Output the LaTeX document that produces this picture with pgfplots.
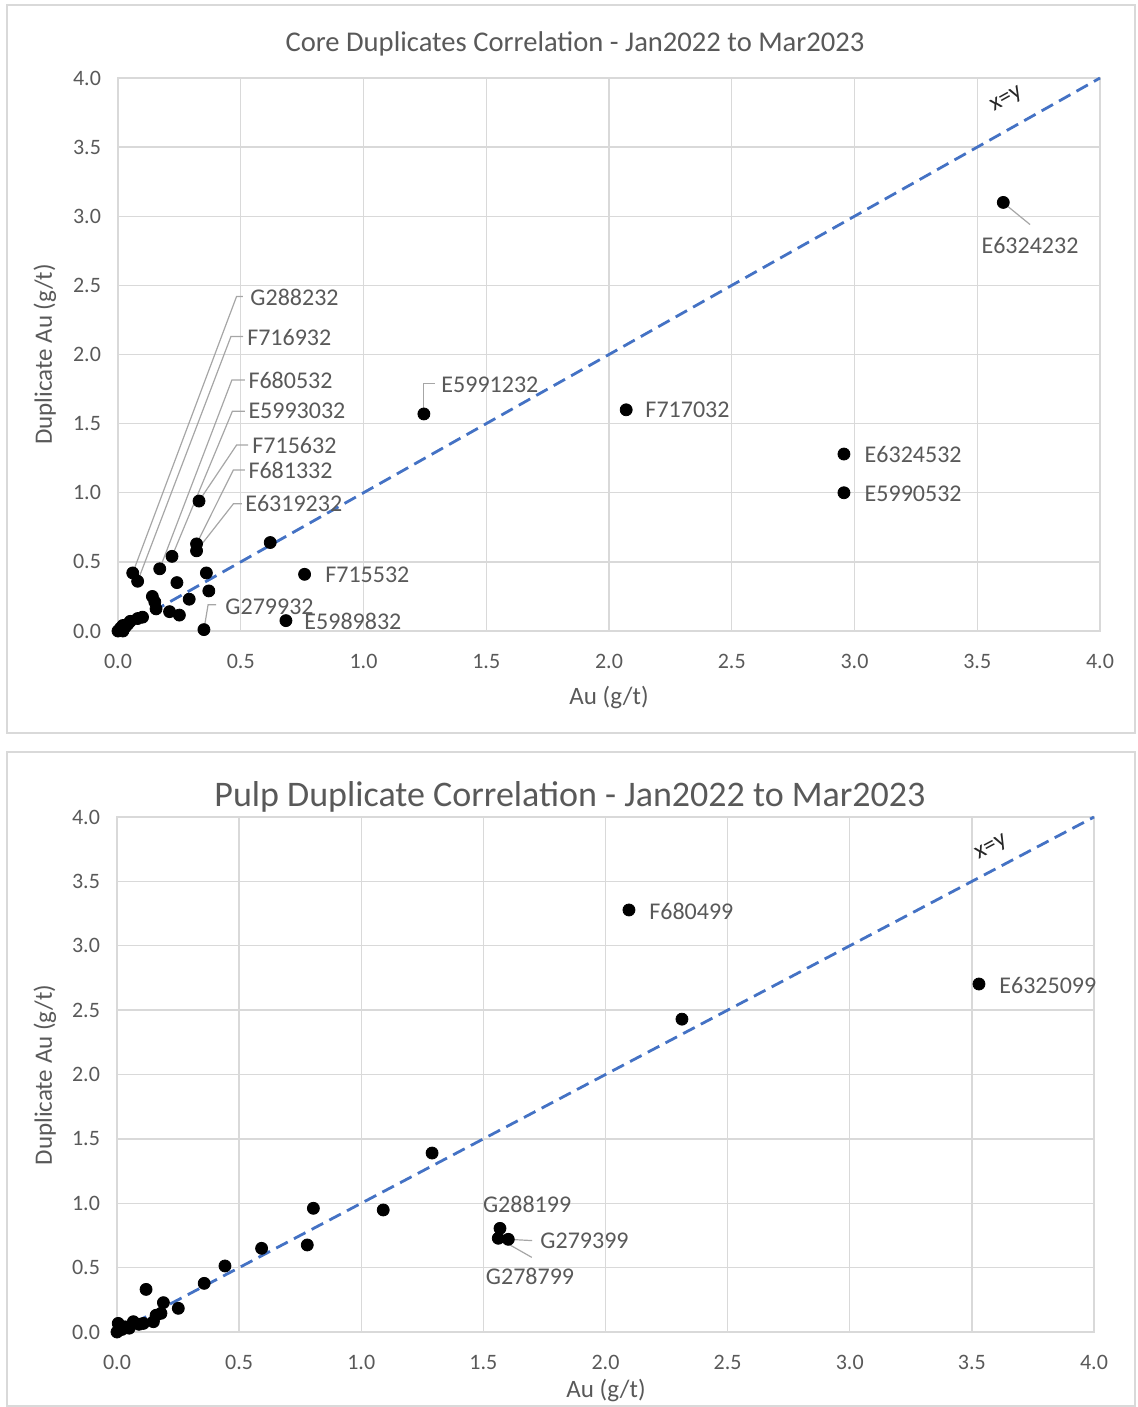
\documentclass[border=0pt]{standalone}
\usepackage{pgfplots}
\pgfplotsset{compat=1.18}
\usepackage{fontspec}
\setmainfont{Carlito}
\definecolor{txt}{HTML}{595959}
\definecolor{gridc}{HTML}{D9D9D9}
\definecolor{lead}{HTML}{A6A6A6}
\definecolor{xyblue}{HTML}{4472C4}
\tikzset{lab/.style={font=\fontsize{12}{14}\selectfont, text=txt, inner sep=0pt}}
\pgfplotsset{
  dupl/.style={
    scale only axis, xmin=0, xmax=4, ymin=0, ymax=4,
    xtick={0,0.5,1,1.5,2,2.5,3,3.5,4},
    ytick={0,0.5,1,1.5,2,2.5,3,3.5,4},
    grid=major, major grid style={draw=gridc, line width=0.7pt},
    axis line style={draw=gridc, line width=0.7pt},
    major tick length=0pt,
    /pgf/number format/.cd, fixed, fixed zerofill, precision=1, assume math mode=true,
    /pgfplots/.cd,
    tick label style={font=\fontsize{11}{13}\selectfont, text=txt},
    xticklabel style={yshift=-8pt},
    yticklabel style={xshift=-5pt},
    clip=false,
  },
}
\begin{document}
\begin{tikzpicture}
\path[use as bounding box] (0,0) rectangle (568.5pt,-703.5pt);
\draw[gridc, line width=0.8pt] (3.5pt,-2.5pt) rectangle (567.5pt,-366.5pt);
\draw[gridc, line width=0.8pt] (3.5pt,-376pt) rectangle (567.5pt,-703pt);
% ---------------- top chart ----------------
\node[font=\fontsize{14.3}{16}\selectfont, text=txt] at (287.5pt,-22pt) {Core Duplicates Correlation - Jan2022 to Mar2023};
\node[font=\fontsize{12.5}{14}\selectfont, text=txt, rotate=90] at (22.5pt,-177.25pt) {Duplicate Au (g/t)};
\node[font=\fontsize{12.5}{14}\selectfont, text=txt] at (304.5pt,-348.5pt) {Au (g/t)};
\begin{axis}[dupl, at={(59pt,-315.5pt)}, anchor=south west, width=491pt, height=276.5pt]
\addplot[xyblue, line width=1.4pt, dash pattern=on 6.5pt off 3.5pt] coordinates {(0,0) (4,4)};
\addplot[only marks, mark=*, mark size=3pt, black] table {
x y
0.00 0.00
0.01 0.02
0.02 0.00
0.02 0.04
0.03 0.03
0.04 0.05
0.05 0.07
0.08 0.09
0.10 0.10
0.06 0.42
0.08 0.36
0.17 0.45
0.22 0.54
0.24 0.35
0.14 0.25
0.15 0.21
0.155 0.16
0.21 0.14
0.25 0.115
0.29 0.23
0.36 0.42
0.37 0.29
0.35 0.01
0.32 0.63
0.32 0.58
0.33 0.94
0.62 0.64
0.76 0.41
0.684 0.075
1.246 1.57
2.07 1.60
2.957 1.28
2.957 1.00
3.606 3.10
};
\draw[lead, line width=0.6pt] (axis cs:0.06,0.42) -- (axis cs:0.483,2.42) -- (axis cs:0.509,2.42);
\draw[lead, line width=0.6pt] (axis cs:0.08,0.36) -- (axis cs:0.46,2.13) -- (axis cs:0.51,2.13);
\draw[lead, line width=0.6pt] (axis cs:0.17,0.45) -- (axis cs:0.464,1.816) -- (axis cs:0.517,1.816);
\draw[lead, line width=0.6pt] (axis cs:0.22,0.54) -- (axis cs:0.466,1.59) -- (axis cs:0.517,1.59);
\draw[lead, line width=0.6pt] (axis cs:0.33,0.94) -- (axis cs:0.483,1.345) -- (axis cs:0.53,1.345);
\draw[lead, line width=0.6pt] (axis cs:0.32,0.63) -- (axis cs:0.47,1.165) -- (axis cs:0.517,1.165);
\draw[lead, line width=0.6pt] (axis cs:0.32,0.58) -- (axis cs:0.47,0.92) -- (axis cs:0.505,0.92);
\draw[lead, line width=0.6pt] (axis cs:0.35,0.01) -- (axis cs:0.367,0.19) -- (axis cs:0.40,0.19);
\draw[lead, line width=0.6pt] (axis cs:1.246,1.57) -- (axis cs:1.246,1.79) -- (axis cs:1.29,1.79);
\draw[lead, line width=0.6pt] (axis cs:3.606,3.098) -- (axis cs:3.715,2.94);
\node[lab, anchor=west] at (axis cs:0.538,2.41) {G288232};
\node[lab, anchor=west] at (axis cs:0.525,2.12) {F716932};
\node[lab, anchor=west] at (axis cs:0.53,1.81) {F680532};
\node[lab, anchor=west] at (axis cs:0.53,1.59) {E5993032};
\node[lab, anchor=west] at (axis cs:0.546,1.345) {F715632};
\node[lab, anchor=west] at (axis cs:0.53,1.165) {F681332};
\node[lab, anchor=west] at (axis cs:0.517,0.92) {E6319232};
\node[lab, anchor=west] at (axis cs:0.436,0.176) {G279932};
\node[lab, anchor=west] at (axis cs:0.758,0.067) {E5989832};
\node[lab, anchor=west] at (axis cs:1.316,1.78) {E5991232};
\node[lab, anchor=west] at (axis cs:2.147,1.60) {F717032};
\node[lab, anchor=west] at (axis cs:3.04,1.28) {E6324532};
\node[lab, anchor=west] at (axis cs:3.04,0.99) {E5990532};
\node[lab, anchor=west] at (axis cs:0.843,0.41) {F715532};
\node[lab] at (axis cs:3.715,2.79) {E6324232};
\node[font=\fontsize{12}{14}\selectfont, text=black!85, rotate=29, inner sep=0pt] at (axis cs:3.62,3.84) {x=y};
\end{axis}
% ---------------- bottom chart ----------------
\node[font=\fontsize{18}{20}\selectfont, text=txt] at (285pt,-398.5pt) {Pulp Duplicate Correlation - Jan2022 to Mar2023};
\node[font=\fontsize{12.5}{14}\selectfont, text=txt, rotate=90] at (22.5pt,-537.5pt) {Duplicate Au (g/t)};
\node[font=\fontsize{12.5}{14}\selectfont, text=txt] at (303pt,-695pt) {Au (g/t)};
\begin{axis}[dupl, at={(58.5pt,-666pt)}, anchor=south west, width=488.5pt, height=257.5pt]
\addplot[xyblue, line width=1.4pt, dash pattern=on 6.5pt off 3.5pt] coordinates {(0,0) (4,4)};
\addplot[only marks, mark=*, mark size=3pt, black] table {
x y
0.00 0.00
0.005 0.067
0.02 0.02
0.033 0.04
0.05 0.03
0.067 0.08
0.09 0.06
0.108 0.067
0.149 0.08
0.16 0.13
0.18 0.145
0.19 0.228
0.251 0.184
0.119 0.331
0.357 0.378
0.442 0.513
0.592 0.65
0.779 0.676
0.804 0.961
1.09 0.948
1.29 1.39
1.568 0.805
1.561 0.728
1.602 0.72
2.096 3.278
2.313 2.43
3.529 2.703
};
\draw[lead, line width=0.6pt] (axis cs:1.602,0.72) -- (axis cs:1.70,0.71);
\draw[lead, line width=0.6pt] (axis cs:1.561,0.728) -- (axis cs:1.698,0.58);
\node[lab, anchor=west] at (axis cs:2.178,3.27) {F680499};
\node[lab, anchor=west] at (axis cs:3.611,2.695) {E6325099};
\node[lab] at (axis cs:1.679,0.99) {G288199};
\node[lab, anchor=west] at (axis cs:1.732,0.707) {G279399};
\node[lab] at (axis cs:1.691,0.435) {G278799};
\node[font=\fontsize{12}{14}\selectfont, text=black!85, rotate=28, inner sep=0pt] at (axis cs:3.58,3.76) {x=y};
\end{axis}
\end{tikzpicture}
\end{document}
